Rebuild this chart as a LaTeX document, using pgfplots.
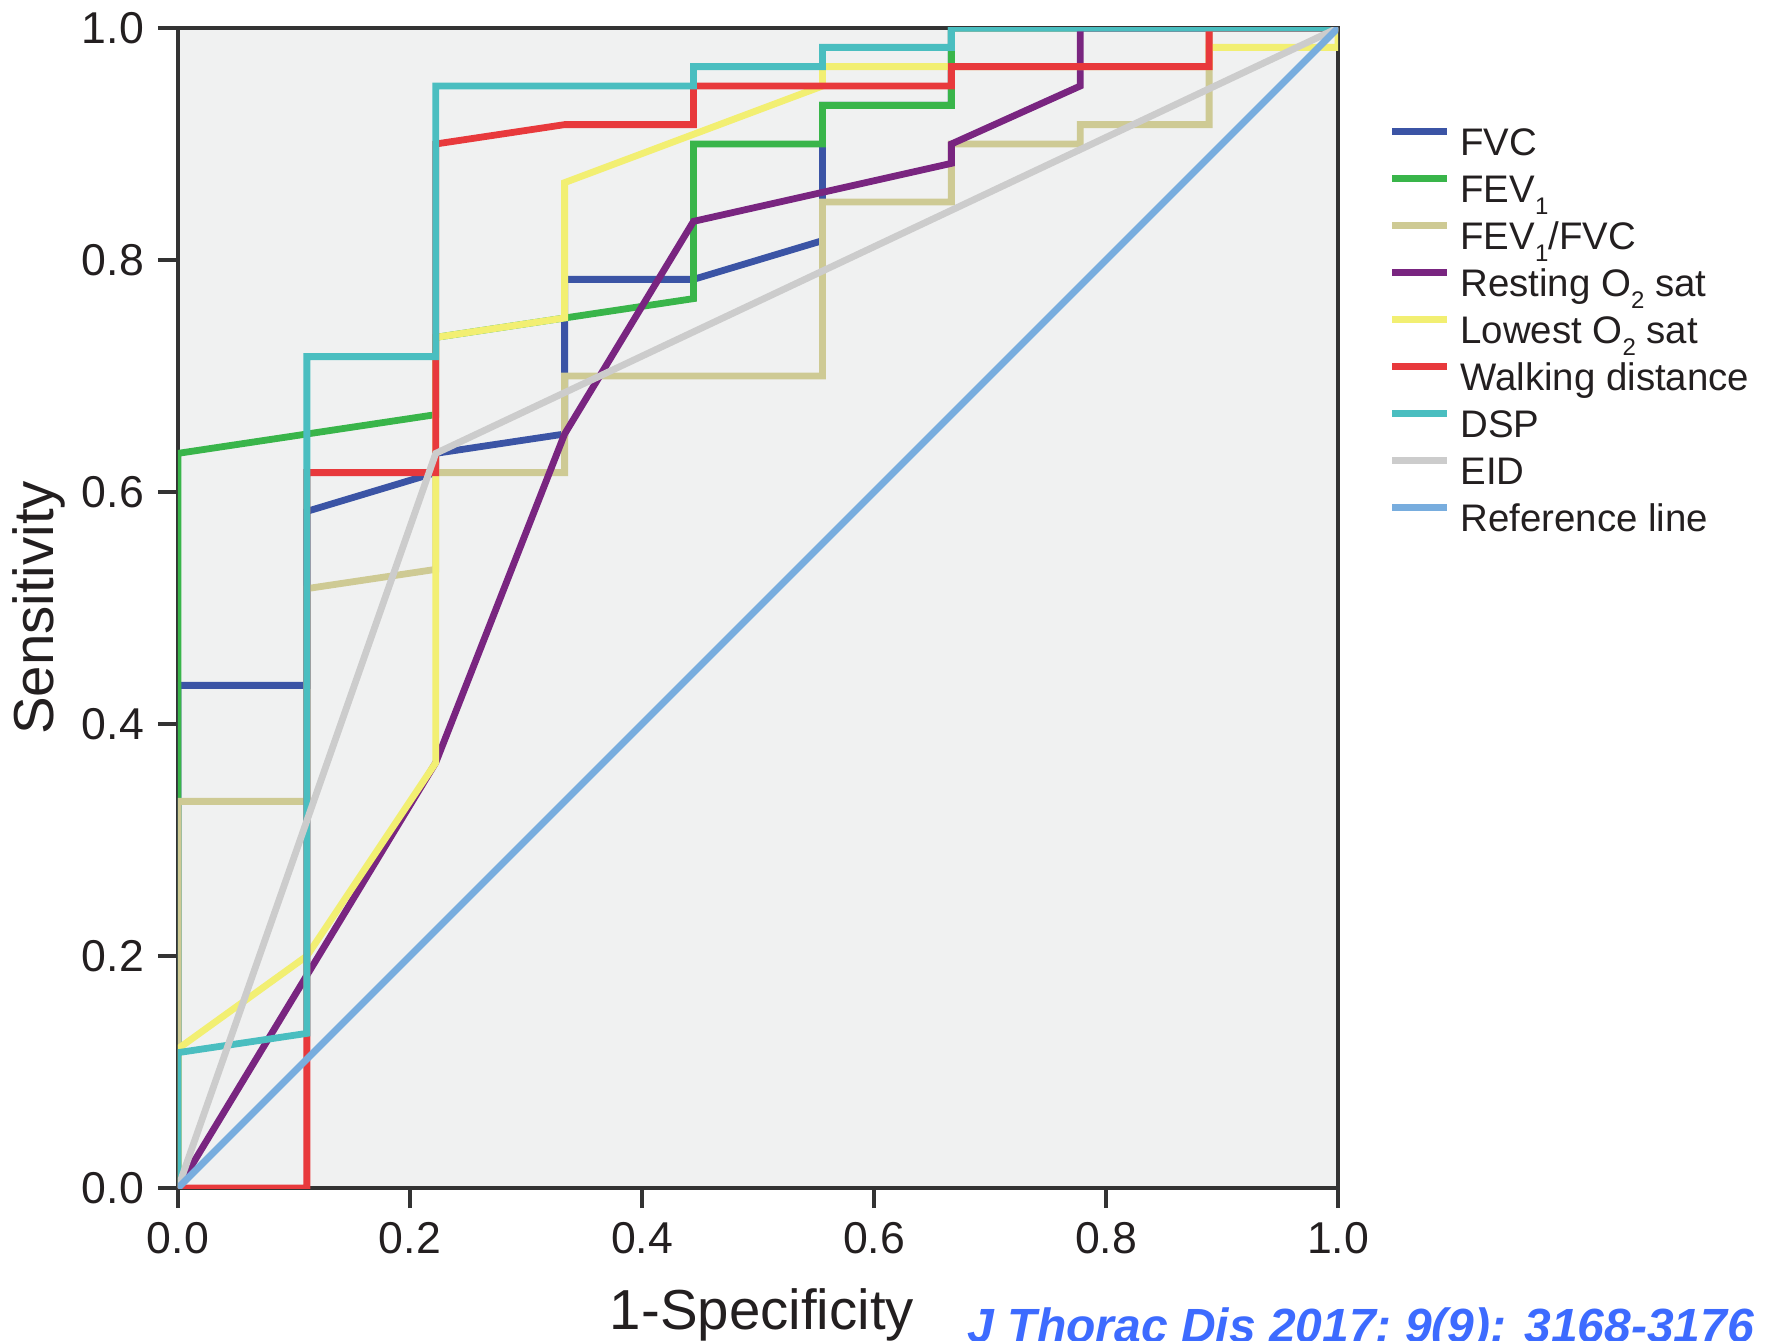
\documentclass[border=0pt]{standalone}
\usepackage{fontspec}
\setmainfont{Liberation Sans}
\usepackage{pgfplots}
\pgfplotsset{compat=1.18}
\definecolor{cfvc}{HTML}{3B54A5}
\definecolor{cfev}{HTML}{39B54A}
\definecolor{cratio}{HTML}{CECA94}
\definecolor{crest}{HTML}{792580}
\definecolor{clow}{HTML}{F2EF72}
\definecolor{cwalk}{HTML}{E8393C}
\definecolor{cdsp}{HTML}{4ABEC0}
\definecolor{ceid}{HTML}{CCCCCC}
\definecolor{cref}{HTML}{78ADDE}
\definecolor{cbg}{HTML}{F0F1F1}
\definecolor{caxis}{HTML}{333333}
\definecolor{ctext}{HTML}{231F20}
\definecolor{ccite}{HTML}{3D6BFF}
\newcommand{\sub}[1]{\raisebox{-0.6ex}{\fontsize{6}{6}\selectfont #1}}
\begin{document}
\begin{tikzpicture}
\begin{axis}[
  name=ax,
  at={(0pt,0pt)}, anchor=south west,
  scale only axis, width=290pt, height=290pt,
  xmin=0, xmax=1, ymin=0, ymax=1,
  xtick={0,0.2,0.4,0.6,0.8,1.0},
  ytick={0,0.2,0.4,0.6,0.8,1.0},
  xtick pos=bottom, ytick pos=left,
  tick align=outside, major tick length=5pt,
  tick style={draw=caxis, line width=1pt},
  axis line style={draw=caxis, line width=1pt},
  axis background/.style={fill=cbg},
  ticklabel style={font=\fontsize{11.15}{13}\selectfont, text=ctext},
  /pgf/number format/.cd, fixed, fixed zerofill, precision=1, assume math mode=true,
  /pgfplots/.cd,
  xlabel={1-Specificity},
  ylabel={Sensitivity},
  label style={font=\fontsize{14.1}{16}\selectfont, text=ctext},
  xlabel style={at={(axis description cs:0.5034,-0.1224)}, anchor=base},
  ylabel style={at={(axis description cs:-0.1198,0.5)}, anchor=center},
  every axis plot/.append style={line width=1.7pt},
  legend image code/.code={\draw[#1] (0pt,2.6pt) -- (13.75pt,2.6pt);},
  legend cell align=left,
  legend style={at={(axis description cs:1.0440,0.9204)}, anchor=north west,
    draw=none, fill=none, inner sep=0pt, outer sep=0pt,
    font=\fontsize{9.6}{11}\selectfont, text=ctext,
    nodes={inner sep=0pt, text height=8.84pt, text depth=2pt},
    row sep=0.91pt, column sep=2.4pt},
]
% FVC
\addplot[cfvc] coordinates {(0,0) (0,0.4333) (0.1111,0.4333) (0.1111,0.5833) (0.2222,0.6167) (0.2222,0.6333) (0.3333,0.65) (0.3333,0.7833) (0.4444,0.7833) (0.5556,0.8167) (0.5556,0.9333) (0.6667,0.9333) (0.6667,1) (1,1)};
\addlegendentry{FVC}
% FEV1
\addplot[cfev] coordinates {(0,0) (0,0.6333) (0.2222,0.6667) (0.2222,0.7333) (0.3333,0.75) (0.4444,0.7667) (0.4444,0.9) (0.5556,0.9) (0.5556,0.9333) (0.6667,0.9333) (0.6667,1) (1,1)};
\addlegendentry{FEV\sub{1}}
% FEV1/FVC
\addplot[cratio] coordinates {(0,0) (0,0.3333) (0.1111,0.3333) (0.1111,0.5167) (0.2222,0.5333) (0.2222,0.6167) (0.3333,0.6167) (0.3333,0.7) (0.5556,0.7) (0.5556,0.85) (0.6667,0.85) (0.6667,0.9) (0.7778,0.9) (0.7778,0.9167) (0.8889,0.9167) (0.8889,1) (1,1)};
\addlegendentry{FEV\sub{1}/FVC}
% Resting O2 sat
\addplot[crest] coordinates {(0,0) (0.2222,0.3667) (0.3333,0.65) (0.4444,0.8333) (0.6667,0.8833) (0.6667,0.9) (0.7778,0.95) (0.7778,1) (1,1)};
\addlegendentry{Resting O\sub{2} sat}
% Lowest O2 sat
\addplot[clow] coordinates {(0,0) (0,0.12) (0.1111,0.2) (0.2222,0.3667) (0.2222,0.7333) (0.3333,0.75) (0.3333,0.8667) (0.5556,0.95) (0.5556,0.9667) (0.8889,0.9667) (0.8889,0.9833) (1,0.9833) (1,1)};
\addlegendentry{Lowest O\sub{2} sat}
% Walking distance
\addplot[cwalk] coordinates {(0,0) (0.1111,0) (0.1111,0.6167) (0.2222,0.6167) (0.2222,0.9) (0.3333,0.9167) (0.4444,0.9167) (0.4444,0.95) (0.6667,0.95) (0.6667,0.9667) (0.8889,0.9667) (0.8889,1) (1,1)};
\addlegendentry{Walking distance}
% DSP
\addplot[cdsp] coordinates {(0,0) (0,0.1167) (0.1111,0.1333) (0.1111,0.7167) (0.2222,0.7167) (0.2222,0.95) (0.4444,0.95) (0.4444,0.9667) (0.5556,0.9667) (0.5556,0.9833) (0.6667,0.9833) (0.6667,1) (1,1)};
\addlegendentry{DSP}
% EID
\addplot[ceid] coordinates {(0,0) (0.2222,0.6333) (1,1)};
\addlegendentry{EID}
% Reference line
\addplot[cref] coordinates {(0,0) (1,1)};
\addlegendentry{Reference line}
\end{axis}
\node[anchor=base west, inner sep=0pt, text=ccite, font=\fontsize{12}{14}\selectfont\bfseries\itshape]
  at ([shift={(197.25pt,-38.5pt)}]ax.south west) {J Thorac Dis 2017; 9(9): 3168-3176};
\pgfresetboundingbox
\path ([shift={(-44.5pt,-38pt)}]ax.south west) rectangle ([shift={(397.25pt,297pt)}]ax.south west);
\end{tikzpicture}
\end{document}
